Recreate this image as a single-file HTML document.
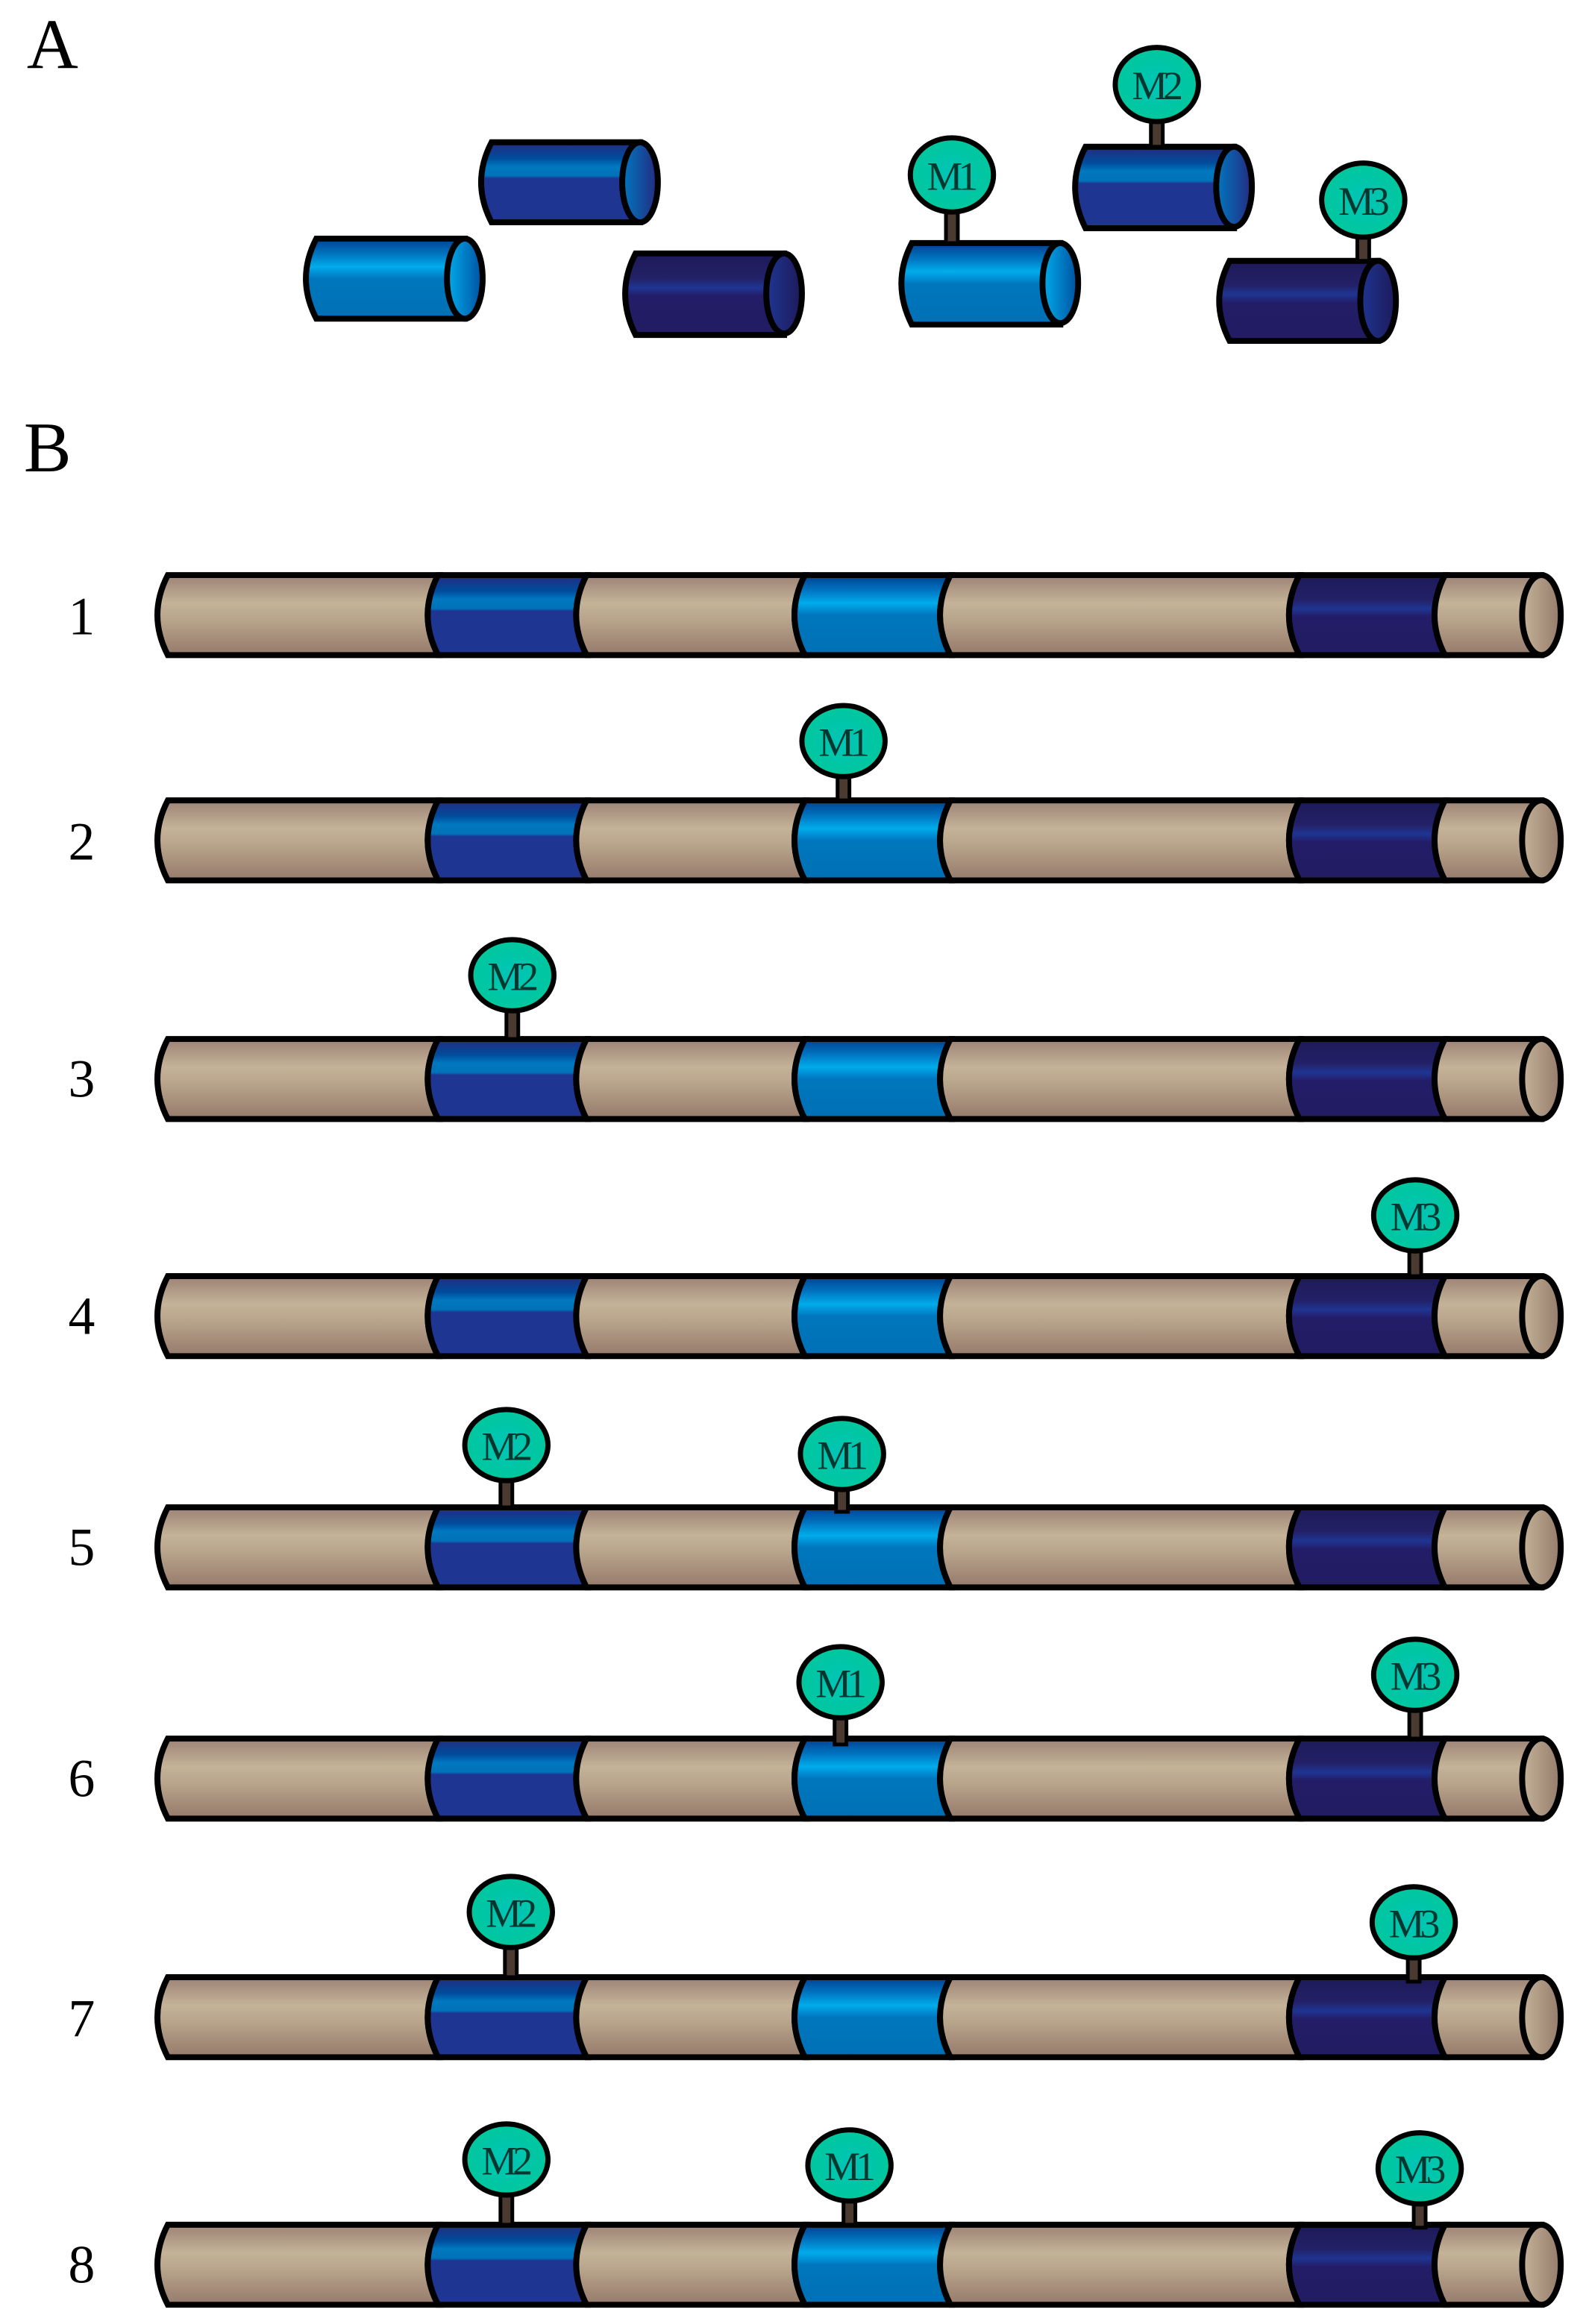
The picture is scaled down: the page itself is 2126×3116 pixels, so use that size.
<!DOCTYPE html>
<html><head><meta charset="utf-8"><style>html,body{margin:0;padding:0;background:#fff}svg{display:block}</style></head>
<body>
<svg width="2126" height="3116" viewBox="0 0 1068 1568" preserveAspectRatio="none" xmlns="http://www.w3.org/2000/svg">
<defs>
<linearGradient id="tan" x1="0" y1="0" x2="0" y2="1">
<stop offset="0" stop-color="#9c8174"/><stop offset="0.35" stop-color="#c4b398"/><stop offset="0.55" stop-color="#b9a58c"/><stop offset="1" stop-color="#957a6b"/></linearGradient>
<linearGradient id="blu" x1="0" y1="0" x2="0" y2="1">
<stop offset="0" stop-color="#252a80"/><stop offset="0.2" stop-color="#004c9c"/><stop offset="0.3" stop-color="#0078c0"/><stop offset="0.42" stop-color="#0072b8"/><stop offset="0.45" stop-color="#1f3592"/><stop offset="1" stop-color="#1f3592"/></linearGradient>
<linearGradient id="lb" x1="0" y1="0" x2="0" y2="1">
<stop offset="0" stop-color="#003f90"/><stop offset="0.2" stop-color="#0077c2"/><stop offset="0.35" stop-color="#00aceb"/><stop offset="0.45" stop-color="#0088cf"/><stop offset="0.5" stop-color="#0077bd"/><stop offset="1" stop-color="#0070b5"/></linearGradient>
<linearGradient id="nv" x1="0" y1="0" x2="0" y2="1">
<stop offset="0" stop-color="#1d1a5a"/><stop offset="0.3" stop-color="#232066"/><stop offset="0.42" stop-color="#1f3592"/><stop offset="0.52" stop-color="#231d68"/><stop offset="1" stop-color="#221c62"/></linearGradient>
<linearGradient id="capt" x1="0" y1="0" x2="1" y2="0"><stop offset="0" stop-color="#c4b398"/><stop offset="1" stop-color="#957a6b"/></linearGradient>
<linearGradient id="capb" x1="0" y1="0" x2="1" y2="0"><stop offset="0" stop-color="#0078c0"/><stop offset="1" stop-color="#252a80"/></linearGradient>
<linearGradient id="capl" x1="0" y1="0" x2="1" y2="0"><stop offset="0" stop-color="#00aceb"/><stop offset="1" stop-color="#0050a0"/></linearGradient>
<linearGradient id="capn" x1="0" y1="0" x2="1" y2="0"><stop offset="0" stop-color="#1f3592"/><stop offset="1" stop-color="#1d1a5a"/></linearGradient>
<radialGradient id="gr" cx="0.5" cy="0.5" r="0.6"><stop offset="0" stop-color="#00c4b8"/><stop offset="1" stop-color="#00c896"/></radialGradient>
<g id="bar" stroke="#000" stroke-width="4">
<path d="M113,0 L295,0 Q281,27 295,54 L113,54 Q99,27 113,0Z" fill="url(#tan)"/>
<path d="M295,0 L395,0 Q381,27 395,54 L295,54 Q281,27 295,0Z" fill="url(#blu)"/>
<path d="M395,0 L542,0 Q528,27 542,54 L395,54 Q381,27 395,0Z" fill="url(#tan)"/>
<path d="M542,0 L640,0 Q626,27 640,54 L542,54 Q528,27 542,0Z" fill="url(#lb)"/>
<path d="M640,0 L875,0 Q861,27 875,54 L640,54 Q626,27 640,0Z" fill="url(#tan)"/>
<path d="M875,0 L973,0 Q959,27 973,54 L875,54 Q861,27 875,0Z" fill="url(#nv)"/>
<path d="M973,0 L1038,0 L1038,54 L973,54 Q959,27 973,0Z" fill="url(#tan)"/>
<ellipse cx="1038" cy="27" rx="13" ry="27" fill="url(#capt)"/>
</g>
</defs>
<g font-family="Liberation Serif, serif" fill="#000">
<text x="18" y="46" font-size="48">A</text>
<text x="16" y="318" font-size="48">B</text>
<g font-size="36">
<text x="46" y="428">1</text><text x="46" y="580">2</text><text x="46" y="740">3</text><text x="46" y="900">4</text>
<text x="46" y="1056">5</text><text x="46" y="1212">6</text><text x="46" y="1374">7</text><text x="46" y="1540">8</text>
</g>
</g>
<use href="#bar" y="388"/><use href="#bar" y="540"/><use href="#bar" y="701"/><use href="#bar" y="861"/>
<use href="#bar" y="1017"/><use href="#bar" y="1173"/><use href="#bar" y="1334"/><use href="#bar" y="1501"/>

<g stroke="#000" stroke-width="4">
<path d="M331,96 L431,96 L431,150 L331,150 Q317,123 331,96Z" fill="url(#blu)"/><ellipse cx="431" cy="123" rx="12" ry="27" fill="url(#capb)"/>
<path d="M213,161 L313,161 L313,215 L213,215 Q199,188 213,161Z" fill="url(#lb)"/><ellipse cx="313" cy="188" rx="12" ry="27" fill="url(#capl)"/>
<path d="M428,171 L528,171 L528,226 L428,226 Q414,198 428,171Z" fill="url(#nv)"/><ellipse cx="528" cy="198" rx="12" ry="27" fill="url(#capn)"/>
<path d="M614,164 L714,164 L714,219 L614,219 Q600,191 614,164Z" fill="url(#lb)"/><ellipse cx="714" cy="191" rx="12" ry="27" fill="url(#capl)"/>
<path d="M731,99 L831,99 L831,154 L731,154 Q717,126 731,99Z" fill="url(#blu)"/><ellipse cx="831" cy="126" rx="12" ry="27" fill="url(#capb)"/>
<path d="M828,176 L928,176 L928,230 L828,230 Q814,203 828,176Z" fill="url(#nv)"/><ellipse cx="928" cy="203" rx="12" ry="27" fill="url(#capn)"/>
</g>

<g stroke="#000" stroke-width="3.5" font-family="Liberation Serif, serif" font-size="27" letter-spacing="-3">
<g><rect x="637" y="140" width="8" height="24" fill="#4a3a30" stroke-width="2.5"/><ellipse cx="641" cy="118" rx="28" ry="25" fill="url(#gr)"/><text x="640" y="128" text-anchor="middle" stroke="none" fill="#003830">M1</text></g>
<g><rect x="775" y="79" width="8" height="20" fill="#4a3a30" stroke-width="2.5"/><ellipse cx="779" cy="57" rx="28" ry="25" fill="url(#gr)"/><text x="778" y="67" text-anchor="middle" stroke="none" fill="#003830">M2</text></g>
<g><rect x="914" y="157" width="8" height="19" fill="#4a3a30" stroke-width="2.5"/><ellipse cx="918" cy="135" rx="28" ry="25" fill="url(#gr)"/><text x="917" y="145" text-anchor="middle" stroke="none" fill="#003830">M3</text></g>

<g><rect x="564" y="522" width="8" height="18" fill="#4a3a30" stroke-width="2.5"/><ellipse cx="568" cy="500" rx="28" ry="24" fill="url(#gr)"/><text x="567" y="510" text-anchor="middle" stroke="none" fill="#003830">M1</text></g>
<g><rect x="341" y="680" width="8" height="21" fill="#4a3a30" stroke-width="2.5"/><ellipse cx="345" cy="658" rx="28" ry="24" fill="url(#gr)"/><text x="344" y="668" text-anchor="middle" stroke="none" fill="#003830">M2</text></g>
<g><rect x="949" y="842" width="8" height="19" fill="#4a3a30" stroke-width="2.5"/><ellipse cx="953" cy="820" rx="28" ry="24" fill="url(#gr)"/><text x="952" y="830" text-anchor="middle" stroke="none" fill="#003830">M3</text></g>
<g><rect x="337" y="997" width="8" height="20" fill="#4a3a30" stroke-width="2.5"/><ellipse cx="341" cy="975" rx="28" ry="24" fill="url(#gr)"/><text x="340" y="985" text-anchor="middle" stroke="none" fill="#003830">M2</text></g>
<g><rect x="563" y="1003" width="8" height="17" fill="#4a3a30" stroke-width="2.5"/><ellipse cx="567" cy="981" rx="28" ry="24" fill="url(#gr)"/><text x="566" y="991" text-anchor="middle" stroke="none" fill="#003830">M1</text></g>
<g><rect x="562" y="1157" width="8" height="20" fill="#4a3a30" stroke-width="2.5"/><ellipse cx="566" cy="1135" rx="28" ry="24" fill="url(#gr)"/><text x="565" y="1145" text-anchor="middle" stroke="none" fill="#003830">M1</text></g>
<g><rect x="949" y="1152" width="8" height="21" fill="#4a3a30" stroke-width="2.5"/><ellipse cx="953" cy="1130" rx="28" ry="24" fill="url(#gr)"/><text x="952" y="1140" text-anchor="middle" stroke="none" fill="#003830">M3</text></g>
<g><rect x="340" y="1312" width="8" height="22" fill="#4a3a30" stroke-width="2.5"/><ellipse cx="344" cy="1290" rx="28" ry="24" fill="url(#gr)"/><text x="343" y="1300" text-anchor="middle" stroke="none" fill="#003830">M2</text></g>
<g><rect x="948" y="1319" width="8" height="18" fill="#4a3a30" stroke-width="2.5"/><ellipse cx="952" cy="1297" rx="28" ry="24" fill="url(#gr)"/><text x="951" y="1307" text-anchor="middle" stroke="none" fill="#003830">M3</text></g>
<g><rect x="337" y="1479" width="8" height="22" fill="#4a3a30" stroke-width="2.5"/><ellipse cx="341" cy="1457" rx="28" ry="24" fill="url(#gr)"/><text x="340" y="1467" text-anchor="middle" stroke="none" fill="#003830">M2</text></g>
<g><rect x="568" y="1483" width="8" height="18" fill="#4a3a30" stroke-width="2.5"/><ellipse cx="572" cy="1461" rx="28" ry="24" fill="url(#gr)"/><text x="571" y="1471" text-anchor="middle" stroke="none" fill="#003830">M1</text></g>
<g><rect x="952" y="1485" width="8" height="18" fill="#4a3a30" stroke-width="2.5"/><ellipse cx="956" cy="1463" rx="28" ry="24" fill="url(#gr)"/><text x="955" y="1473" text-anchor="middle" stroke="none" fill="#003830">M3</text></g>
</g>
</svg>
</body></html>
